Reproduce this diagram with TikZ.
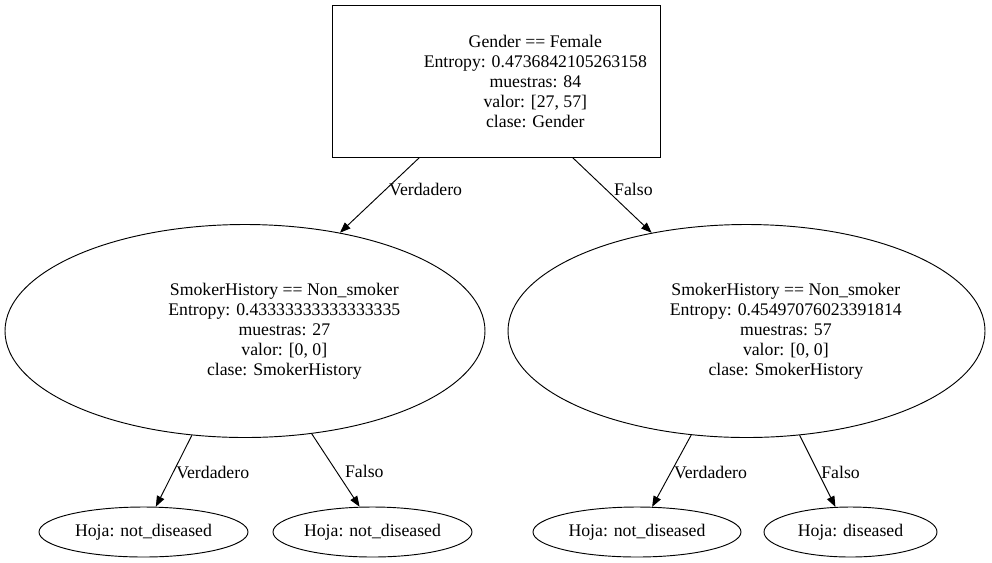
\documentclass[tikz,border=0pt]{standalone}
\usepackage{fontspec}
\setmainfont{Liberation Serif}
\usetikzlibrary{shapes.geometric,arrows.meta}

\def\txtshift{29.5pt}
\def\lblpos{0.52}

\begin{document}
\begin{tikzpicture}[x=0.75pt,y=-0.75pt,
	every node/.style={font=\fontsize{13.3pt}{15pt}\selectfont},
	splitbox/.style={draw,rectangle,line width=0.7pt,minimum width=246pt,minimum height=114pt,inner sep=0pt},
	splitoval/.style={draw,ellipse,line width=0.7pt,minimum height=159.75pt,inner sep=0pt},
	leafoval/.style={draw,ellipse,line width=0.7pt,minimum height=37.5pt,inner sep=0pt},
	branch/.style={-{Triangle[length=8pt,width=6pt]},line width=0.7pt},
	branchlbl/.style={anchor=west,inner sep=2pt}
]
\useasboundingbox (0,0) rectangle (992,562);

% split nodes
\node [splitbox] (gender) at (496,81) {};
\node [align=center,xshift=\txtshift] at (gender.center) {Gender == Female\\
Entropy: 0.4736842105263158\\
muestras: 84\\
valor: [27, 57]\\
clase: Gender
};
\node [splitoval,minimum width=360pt] (smokerA) at (245,331) {};
\node [align=center,xshift=\txtshift] at (smokerA.center) {SmokerHistory == Non\_smoker\\
Entropy: 0.43333333333333335\\
muestras: 27\\
valor: [0, 0]\\
clase: SmokerHistory
};
\node [splitoval,minimum width=357.75pt] (smokerB) at (746.5,331) {};
\node [align=center,xshift=\txtshift] at (smokerB.center) {SmokerHistory == Non\_smoker\\
Entropy: 0.45497076023391814\\
muestras: 57\\
valor: [0, 0]\\
clase: SmokerHistory
};

% leaves
\node [leafoval,minimum width=156.75pt] (leafA) at (143.5,532) {Hoja: not\_diseased};
\node [leafoval,minimum width=149.25pt] (leafB) at (372.5,532) {Hoja: not\_diseased};
\node [leafoval,minimum width=156pt] (leafC) at (637,532) {Hoja: not\_diseased};
\node [leafoval,minimum width=129.75pt] (leafD) at (850.5,532) {Hoja: diseased};

% branches
\draw [branch] (gender.-135) -- node [branchlbl,pos=0.42] {Verdadero} (smokerA.46);
\draw [branch] (gender.-45) -- node [branchlbl,pos=0.42,xshift=4pt] {Falso} (smokerB.134.7);
\draw [branch] (smokerA.-117.4) -- node [branchlbl,pos=\lblpos] {Verdadero} (leafA.64);
\draw [branch] (smokerA.-57) -- node [branchlbl,pos=\lblpos,xshift=4pt] {Falso} (leafB.117.5);
\draw [branch] (smokerB.-118) -- node [branchlbl,pos=\lblpos] {Verdadero} (leafC.59.7);
\draw [branch] (smokerB.-63) -- node [branchlbl,pos=\lblpos] {Falso} (leafD.121);
\end{tikzpicture}
\end{document}
